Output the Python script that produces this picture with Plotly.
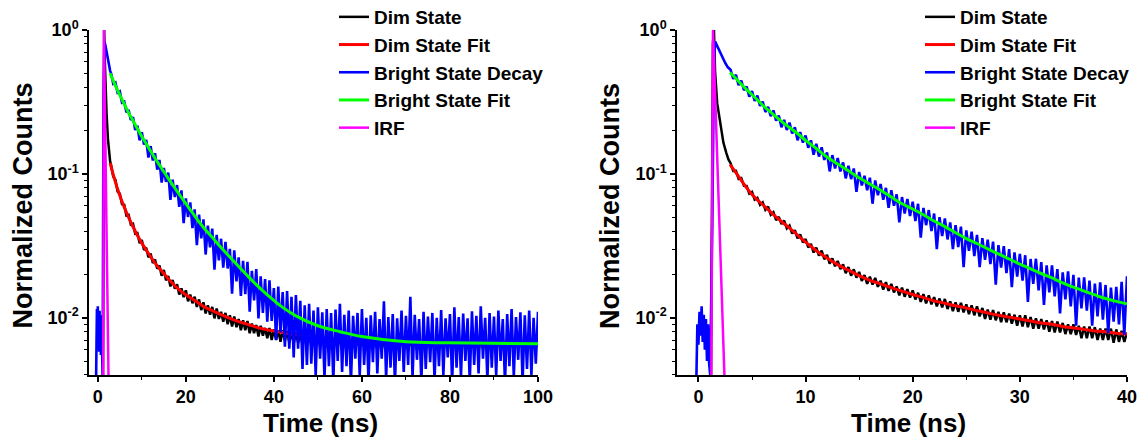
import plotly.graph_objects as go

# ======================= DATA =======================
# ---- Panel 1 (0-100 ns) ----
dim1_early_t = [1.15, 1.3, 1.45, 1.6, 1.8, 2.0, 2.3, 2.6, 2.8]
dim1_early = [0.002, 0.5, 1.0, 0.6, 0.36, 0.26, 0.175, 0.135, 0.122]

bright1_early_t = [-0.4, -0.3, -0.2, -0.1, 0.0, 0.1, 0.2, 0.3, 0.4, 0.5, 0.6, 0.7, 0.8, 0.9,
                   1.1, 1.3, 1.5, 1.7, 2.0, 2.3, 2.6, 2.8]
bright1_early = [0.0035, 0.0085, 0.0115, 0.0062, 0.0120, 0.0070, 0.0105, 0.0058, 0.0112, 0.0080,
                 0.0098, 0.0055, 0.0104, 0.0068,
                 0.004, 0.35, 0.83, 0.79, 0.69, 0.61, 0.55, 0.52]

# regularly sampled decay from 3 ns, every 0.5 ns (10 samples = 5 ns per line)
GRID1_START, GRID1_STEP = 3.0, 0.5
dim1 = [
    0.1161, 0.0960, 0.0912, 0.0753, 0.0728, 0.0616, 0.0610, 0.0513, 0.0519, 0.0444,
    0.0450, 0.0384, 0.0388, 0.0330, 0.0347, 0.0296, 0.0307, 0.0263, 0.0279, 0.0240,
    0.0254, 0.0219, 0.0231, 0.0196, 0.0215, 0.0182, 0.0195, 0.0165, 0.0183, 0.0159,
    0.0171, 0.0145, 0.0160, 0.0139, 0.0155, 0.0130, 0.0145, 0.0126, 0.0140, 0.0119,
    0.0134, 0.0113, 0.0128, 0.0107, 0.0122, 0.0105, 0.0119, 0.0099, 0.0116, 0.0098,
    0.0110, 0.0094, 0.0108, 0.0090, 0.0104, 0.0087, 0.0102, 0.0086, 0.0098, 0.0082,
    0.0096, 0.0082, 0.0095, 0.0078, 0.0091, 0.0078, 0.0089, 0.0074, 0.0088, 0.0075,
    0.0085, 0.0072, 0.0085, 0.0070, 0.0083, 0.0070, 0.0082, 0.0068, 0.0082, 0.0069,
    0.0081, 0.0067, 0.0080, 0.0066, 0.0079, 0.0067, 0.0078, 0.0065, 0.0078, 0.0066,
    0.0077, 0.0064, 0.0077, 0.0065, 0.0076, 0.0063, 0.0076, 0.0064, 0.0075, 0.0063,
    0.0075, 0.0062, 0.0074, 0.0063, 0.0075, 0.0061, 0.0073, 0.0063, 0.0074, 0.0062,
    0.0073, 0.0061, 0.0074, 0.0062, 0.0072, 0.0063, 0.0074, 0.0061, 0.0073, 0.0062,
    0.0071, 0.0061, 0.0072, 0.0060, 0.0070, 0.0062, 0.0071, 0.0059, 0.0072, 0.0061,
    0.0070, 0.0060, 0.0072, 0.0061, 0.0071, 0.0059, 0.0070, 0.0062, 0.0071, 0.0060,
    0.0072, 0.0061, 0.0070, 0.0059, 0.0071, 0.0062, 0.0070, 0.0060, 0.0072, 0.0061,
    0.0070, 0.0059, 0.0071, 0.0062, 0.0072, 0.0060, 0.0070, 0.0061, 0.0071, 0.0059,
    0.0072, 0.0061, 0.0070, 0.0060, 0.0071, 0.0062, 0.0070, 0.0059, 0.0072, 0.0061,
    0.0070, 0.0060, 0.0071, 0.0061, 0.0072, 0.0059, 0.0070, 0.0062, 0.0071, 0.0060,
    0.0072, 0.0061, 0.0070, 0.0059, 0.0071, 0.0062, 0.0070, 0.0060, 0.0072, 0.0061,
    0.0070, 0.0059, 0.0071, 0.0062, 0.0070,
]
bright1 = [
    0.502, 0.423, 0.432, 0.366, 0.374, 0.313, 0.318, 0.268, 0.278, 0.237,
    0.248, 0.202, 0.216, 0.171, 0.195, 0.160, 0.172, 0.130, 0.156, 0.124,
    0.139, 0.107, 0.125, 0.087, 0.110, 0.088, 0.102, 0.066, 0.091, 0.069,
    0.0836, 0.0590, 0.0767, 0.0455, 0.0676, 0.0502, 0.0633, 0.0419, 0.0566, 0.0319,
    0.0521, 0.0356, 0.0483, 0.0275, 0.0437, 0.0308, 0.0416, 0.0216, 0.0377, 0.0250,
    0.0354, 0.0223, 0.0337, 0.0220, 0.0301, 0.0147, 0.0294, 0.0179, 0.0263, 0.0142,
    0.0249, 0.0146, 0.0245, 0.0110, 0.0212, 0.0132, 0.0218, 0.0099, 0.0194, 0.0108,
    0.0186, 0.0094, 0.0182, 0.0095, 0.0161, 0.0070, 0.0165, 0.0079, 0.0151, 0.0063,
    0.0153, 0.0061, 0.0140, 0.0053, 0.0144, 0.0061, 0.0131, 0.0044, 0.0122, 0.0047,
    0.0125, 0.0048, 0.0112, 0.0040, 0.0118, 0.0052, 0.0109, 0.0038, 0.0115, 0.0046,
    0.0108, 0.0036, 0.0114, 0.0050, 0.0125, 0.0042, 0.0105, 0.0046, 0.0112, 0.0035,
    0.0103, 0.0052, 0.0108, 0.0040, 0.0115, 0.0047, 0.0100, 0.0036, 0.0104, 0.0049,
    0.0110, 0.0041, 0.0098, 0.0052, 0.0130, 0.0038, 0.0101, 0.0045, 0.0106, 0.0035,
    0.0099, 0.0050, 0.0112, 0.0042, 0.0103, 0.0047, 0.0140, 0.0038, 0.0105, 0.0051,
    0.0098, 0.0036, 0.0110, 0.0044, 0.0102, 0.0049, 0.0108, 0.0037, 0.0100, 0.0046,
    0.0113, 0.0040, 0.0099, 0.0053, 0.0106, 0.0035, 0.0118, 0.0045, 0.0101, 0.0039,
    0.0107, 0.0050, 0.0099, 0.0036, 0.0111, 0.0047, 0.0103, 0.0041, 0.0120, 0.0052,
    0.0100, 0.0037, 0.0108, 0.0045, 0.0102, 0.0040, 0.0112, 0.0050, 0.0098, 0.0035,
    0.0106, 0.0046, 0.0115, 0.0039, 0.0101, 0.0051, 0.0109, 0.0036, 0.0104, 0.0044,
    0.0112, 0.0040, 0.0100, 0.0048, 0.0110,
]

fit1_t = [2.8, 3.0, 3.5, 4.0, 4.5, 5.0, 5.5, 6.0, 6.5, 7.0,
          8, 9, 10, 11, 12, 13, 14, 15, 16, 17, 18, 19, 20, 21, 22,
          24, 26, 28, 30, 32, 34, 36, 38, 40, 42,
          45, 50, 55, 60, 70, 80, 100]
dim_fit1 = [0.119, 0.1127, 0.0990, 0.0877, 0.0784, 0.0707, 0.0642, 0.0587, 0.0540, 0.0499,
            0.0429, 0.0373, 0.0330, 0.0295, 0.0266, 0.0240, 0.0220, 0.0203, 0.0186, 0.0173,
            0.0161, 0.0152, 0.01445, 0.0138, 0.0132,
            0.0120, 0.0112, 0.0105, 0.0099, 0.0094, 0.0090, 0.0086, 0.0083, 0.0081, 0.0079,
            0.0076, 0.0073, 0.0071, 0.0070, 0.0068, 0.0067, 0.0067]
bright_fit1 = [0.50, 0.483, 0.445, 0.411, 0.381, 0.353, 0.329, 0.306, 0.285, 0.265,
               0.234, 0.206, 0.182, 0.162, 0.144, 0.1285, 0.1152, 0.1034, 0.0931, 0.0839,
               0.0758, 0.0685, 0.0621, 0.0563, 0.0511,
               0.0424, 0.0362, 0.0308, 0.0264, 0.0227, 0.0196, 0.0170, 0.0149, 0.0132, 0.0118,
               0.0103, 0.0088, 0.0080, 0.0074, 0.0068, 0.0067, 0.0066]

irf1_t = [1.22, 1.38, 2.45]
irf1 = [0.0035, 1.0, 0.0035]

# ---- Panel 2 (0-40 ns) ----
dim2_early_t = [1.15, 1.35, 1.45, 1.55, 1.75, 2.0, 2.33, 2.6, 2.8]
dim2_early = [0.002, 0.8, 1.0, 0.52, 0.31, 0.24, 0.165, 0.14, 0.126]

bright2_early_t = [-0.2, -0.1, 0.0, 0.1, 0.2, 0.3, 0.4, 0.5, 0.6, 0.7, 0.8, 0.9, 1.0,
                   1.1, 1.3, 1.45, 1.56, 1.75, 2.0, 2.25, 2.5, 2.75]
bright2_early = [0.0035, 0.009, 0.0065, 0.011, 0.0075, 0.012, 0.0068, 0.0105, 0.0060, 0.0098,
                 0.0050, 0.0090, 0.0048,
                 0.004, 0.05, 0.6, 0.83, 0.77, 0.70, 0.645, 0.59, 0.55]

# regularly sampled decay from 3 ns, every 0.25 ns (one line per ns)
GRID2_START, GRID2_STEP = 3.0, 0.25
dim2 = [
    0.1185, 0.1048, 0.1051, 0.0922,
    0.0936, 0.0825, 0.0824, 0.0730,
    0.0749, 0.0662, 0.0680, 0.0610,
    0.0634, 0.0563, 0.0592, 0.0520,
    0.0541, 0.0477, 0.0503, 0.0448,
    0.0473, 0.0418, 0.0437, 0.0385,
    0.0406, 0.0356, 0.0379, 0.0334,
    0.0352, 0.0308, 0.0326, 0.0284,
    0.0307, 0.0270, 0.0293, 0.0255,
    0.0273, 0.0238, 0.0259, 0.0228,
    0.0248, 0.0218, 0.0235, 0.0204,
    0.0225, 0.0196, 0.0217, 0.0190,
    0.0208, 0.0180, 0.0198, 0.0172,
    0.0193, 0.0170, 0.0189, 0.0164,
    0.0181, 0.0157, 0.0177, 0.0154,
    0.0172, 0.0150, 0.0165, 0.0143,
    0.0162, 0.0140, 0.0158, 0.0138,
    0.0155, 0.0134, 0.0149, 0.0129,
    0.0146, 0.0126, 0.0143, 0.0124,
    0.0139, 0.0120, 0.0136, 0.0118,
    0.0135, 0.0115, 0.0130, 0.0111,
    0.0128, 0.0110, 0.0127, 0.0109,
    0.0124, 0.0106, 0.0122, 0.0104,
    0.0120, 0.0102, 0.0117, 0.0098,
    0.0114, 0.0097, 0.0113, 0.0096,
    0.0110, 0.0093, 0.0109, 0.0093,
    0.0107, 0.0091, 0.0105, 0.0088,
    0.0104, 0.0087, 0.0104, 0.0086,
    0.0101, 0.0084, 0.0099, 0.0084,
    0.0098, 0.0083, 0.0096, 0.0080,
    0.0095, 0.0079, 0.0094, 0.0079,
    0.0092, 0.0077, 0.0090, 0.0077,
    0.0090, 0.0076, 0.0088, 0.0072,
    0.0087, 0.0072, 0.0087, 0.0072,
    0.0086, 0.0070, 0.0084, 0.0070,
    0.0084, 0.0070, 0.0084, 0.0067,
    0.0083, 0.0068, 0.0081, 0.0068,
    0.0079,
]
bright2 = [
    0.530, 0.458, 0.488, 0.414,
    0.445, 0.382, 0.404, 0.344,
    0.376, 0.321, 0.350, 0.297,
    0.318, 0.269, 0.292, 0.252,
    0.276, 0.234, 0.254, 0.211,
    0.237, 0.202, 0.227, 0.191,
    0.211, 0.171, 0.195, 0.165,
    0.185, 0.152, 0.171, 0.136,
    0.162, 0.132, 0.153, 0.125,
    0.141, 0.104, 0.135, 0.109,
    0.129, 0.104, 0.120, 0.093,
    0.114, 0.092, 0.109, 0.075,
    0.103, 0.083, 0.097, 0.077,
    0.094, 0.062, 0.090, 0.071,
    0.085, 0.066, 0.080, 0.058,
    0.077, 0.060, 0.072, 0.046,
    0.069, 0.053, 0.067, 0.051,
    0.064, 0.047, 0.062, 0.036,
    0.058, 0.044, 0.056, 0.040,
    0.053, 0.030, 0.050, 0.037,
    0.049, 0.035, 0.046, 0.030,
    0.044, 0.031, 0.043, 0.0225,
    0.0405, 0.0292, 0.0396, 0.0268,
    0.0377, 0.0225, 0.0358, 0.0253,
    0.0349, 0.0236, 0.0338, 0.0170,
    0.0320, 0.0223, 0.0315, 0.0204,
    0.0300, 0.0163, 0.0285, 0.0193,
    0.0278, 0.0181, 0.0272, 0.0129,
    0.0256, 0.0172, 0.0257, 0.0155,
    0.0244, 0.0123, 0.0231, 0.0150,
    0.0231, 0.0141, 0.0218, 0.0107,
    0.0207, 0.0134, 0.0210, 0.0120,
    0.0199, 0.0088, 0.0190, 0.0116,
    0.0191, 0.0112, 0.0181, 0.0088,
    0.0173, 0.0102, 0.0176, 0.0097,
    0.0169, 0.0078, 0.0162, 0.0094,
    0.0164, 0.0090, 0.0178, 0.0076,
    0.0194,
]

fit2_t = [2.95, 3.5, 4, 4.5, 5, 5.5, 6, 6.5, 7, 7.5, 8, 8.5, 9, 9.5, 10, 10.5, 11,
          12, 13, 14, 15, 16, 17, 18, 19, 20, 21, 22, 23, 24, 25, 26, 27, 28, 29, 30,
          31, 32, 33, 34, 35, 36, 37, 38, 39, 40]
dim_fit2 = [0.116, 0.102, 0.090, 0.080, 0.072, 0.066, 0.061, 0.0564, 0.052, 0.0484,
            0.045, 0.042, 0.039, 0.0361, 0.0335, 0.0313, 0.0292,
            0.0260, 0.0234, 0.0214, 0.0196, 0.0182, 0.0172, 0.0162, 0.0153, 0.0145,
            0.0138, 0.0131, 0.0126, 0.0121, 0.0117, 0.0112, 0.0108, 0.0104, 0.0101, 0.0098,
            0.0095, 0.0092, 0.0090, 0.0087, 0.0085, 0.0083, 0.0081, 0.0080, 0.0078, 0.0077]
bright_fit2 = [0.507, 0.46, 0.42, 0.385, 0.355, 0.327, 0.30, 0.278, 0.258, 0.240,
               0.224, 0.210, 0.197, 0.184, 0.171, 0.160, 0.150,
               0.131, 0.117, 0.105, 0.094, 0.085, 0.077, 0.069, 0.062, 0.057,
               0.052, 0.047, 0.043, 0.039, 0.0355, 0.0328, 0.0301, 0.0278, 0.0256, 0.0236,
               0.0219, 0.0203, 0.0189, 0.0175, 0.0163, 0.0153, 0.0144, 0.0136, 0.0130, 0.0125]

irf2_t = [1.2, 1.36, 2.45]
irf2 = [0.0035, 1.0, 0.0035]

# axis ticks
x1_ticks = [0, 20, 40, 60, 80, 100]
x2_ticks = [0, 10, 20, 30, 40]
y_ticks = [0.01, 0.1, 1]
y_ticktext = ["10<sup>-2</sup>", "10<sup>-1</sup>", "10<sup>0</sup>"]
y_minor = [0.004, 0.005, 0.006, 0.007, 0.008, 0.009,
           0.02, 0.03, 0.04, 0.05, 0.06, 0.07, 0.08, 0.09,
           0.2, 0.3, 0.4, 0.5, 0.6, 0.7, 0.8, 0.9]

SERIES_NAMES = ["Dim State", "Dim State Fit", "Bright State Decay", "Bright State Fit", "IRF"]


# ======================= FIGURE =======================
def grid(start, step, n):
    return [round(start + step * i, 4) for i in range(n)]


W, H = 1145, 439
OFF = 8  # page body margin of the browser


def px_x(px):
    return (px - OFF) / W


def px_y(py):
    return 1 - (py - OFF) / H


FONT = "Liberation Sans, Arial, Helvetica, sans-serif"

fig = go.Figure()

panels = [
    dict(xa="x", ya="y", leg="legend",
         dim_t=dim1_early_t + grid(GRID1_START, GRID1_STEP, len(dim1)), dim=dim1_early + dim1,
         br_t=bright1_early_t + grid(GRID1_START, GRID1_STEP, len(bright1)), br=bright1_early + bright1,
         fit_t=fit1_t, dfit=dim_fit1, bfit=bright_fit1, irf_t=irf1_t, irf=irf1),
    dict(xa="x2", ya="y2", leg="legend2",
         dim_t=dim2_early_t + grid(GRID2_START, GRID2_STEP, len(dim2)), dim=dim2_early + dim2,
         br_t=bright2_early_t + grid(GRID2_START, GRID2_STEP, len(bright2)), br=bright2_early + bright2,
         fit_t=fit2_t, dfit=dim_fit2, bfit=bright_fit2, irf_t=irf2_t, irf=irf2),
]

for p in panels:
    common = dict(xaxis=p["xa"], yaxis=p["ya"], legend=p["leg"], mode="lines", hoverinfo="skip")
    fig.add_trace(go.Scatter(x=p["dim_t"], y=p["dim"], name=SERIES_NAMES[0],
                             line=dict(color="#000000", width=2.5), **common))
    fig.add_trace(go.Scatter(x=p["fit_t"], y=p["dfit"], name=SERIES_NAMES[1],
                             line=dict(color="#FF0000", width=3, shape="spline"), **common))
    fig.add_trace(go.Scatter(x=p["br_t"], y=p["br"], name=SERIES_NAMES[2],
                             line=dict(color="#0000FF", width=2.6), **common))
    fig.add_trace(go.Scatter(x=p["fit_t"], y=p["bfit"], name=SERIES_NAMES[3],
                             line=dict(color="#00FF00", width=3, shape="spline"), **common))
    fig.add_trace(go.Scatter(x=p["irf_t"], y=p["irf"], name=SERIES_NAMES[4],
                             line=dict(color="#FF00FF", width=2.5), **common))

tickfont = dict(family=FONT, size=18, color="black", weight="bold")


def xaxis_cfg(domain, rng, ticks, minor_dtick):
    return dict(domain=domain, range=rng, tickvals=ticks, ticks="outside", ticklen=5,
                tickwidth=1.5, tickcolor="black", showline=True, linecolor="black",
                linewidth=1.5, showgrid=False, zeroline=False, tickfont=tickfont,
                minor=dict(dtick=minor_dtick, tick0=0, ticks="outside", ticklen=3,
                           tickwidth=1.2, tickcolor="black", showgrid=False))


def yaxis_cfg(anchor):
    return dict(type="log", domain=[px_y(375), px_y(30)], range=[-2.398, 0],
                anchor=anchor, tickvals=y_ticks, ticktext=y_ticktext, ticks="outside",
                ticklen=5, tickwidth=1.5, tickcolor="black", showline=True,
                linecolor="black", linewidth=1.5, showgrid=False, zeroline=False,
                tickfont=tickfont,
                minor=dict(tickvals=y_minor, ticks="outside", ticklen=3, tickwidth=1.2,
                           tickcolor="black", showgrid=False))


legend_font = dict(family=FONT, size=19, color="black", weight="bold")
legend_common = dict(xanchor="left", yanchor="top", bgcolor="rgba(0,0,0,0)",
                     font=legend_font, tracegroupgap=0, itemwidth=30)

fig.update_layout(
    width=W, height=H,
    margin=dict(l=0, r=0, t=0, b=0, autoexpand=False),
    paper_bgcolor="white", plot_bgcolor="white",
    showlegend=True,
    xaxis=dict(anchor="y", **xaxis_cfg([px_x(89), px_x(538)], [-2, 100], x1_ticks, 10)),
    yaxis=yaxis_cfg("x"),
    xaxis2=dict(anchor="y2", **xaxis_cfg([px_x(677), px_x(1127)], [-2, 40], x2_ticks, 5)),
    yaxis2=yaxis_cfg("x2"),
    legend=dict(x=px_x(334), y=px_y(-2), **legend_common),
    legend2=dict(x=px_x(920), y=px_y(-2), **legend_common),
)

title_font = dict(family=FONT, size=27, color="black", weight="bold")
for xc in [22.5, 610]:
    fig.add_annotation(text="Normalized Counts", x=px_x(xc), y=px_y(206), xref="paper",
                       yref="paper", showarrow=False, textangle=-90, font=title_font,
                       xanchor="center", yanchor="middle")
for xc in [320, 908.5]:
    fig.add_annotation(text="Time (ns)", x=px_x(xc), y=px_y(423), xref="paper",
                       yref="paper", showarrow=False, font=dict(title_font, size=26),
                       xanchor="center", yanchor="middle")

fig.write_html("out.html")
